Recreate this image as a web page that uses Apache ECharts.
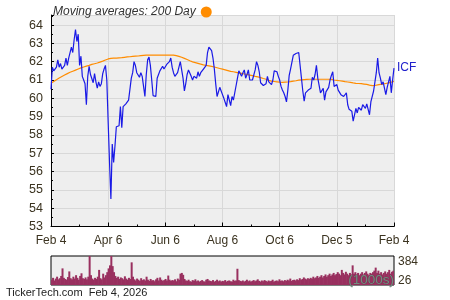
<!DOCTYPE html>
<html><head><meta charset="utf-8">
<script src="https://cdn.jsdelivr.net/npm/echarts@6/dist/echarts.min.js"></script>
<style>html,body{margin:0;padding:0;background:#fff}#c{width:450px;height:300px}</style>
</head><body><div id="c"></div>
<script>
// tick labels on the time axis (one label every 42 trading days)
const xTickLabels = ['Feb 4','Apr 6','Jun 6','Aug 6','Oct 6','Dec 5','Feb 4'];
const xTickStep = 42;
const yTickLabels = [53,54,55,56,57,58,59,60,61,62,63,64];

// daily closing price of ICF (253 trading days)
const price = [
60.5,61.7,61.5,61.6,61.7,62.1,61.7,61.9,61.6,61.7,
61.8,62.2,61.8,62.2,62.5,62.8,62.5,63.2,63.75,63.1,
63.5,61.8,62.3,61.2,61.0,60.8,59.65,61.2,61.75,61.3,
61.35,60.85,61.35,60.9,60.55,60.9,60.65,60.8,61.35,61.6,
61.8,61.0,58.7,56.5,54.5,57.5,56.5,57.4,58.45,58.55,
58.5,59.55,58.4,59.55,59.6,59.7,59.8,59.9,60.5,61.1,
61.4,62.0,61.8,61.4,61.5,61.15,61.4,61.2,60.65,60.1,
61.3,62.1,62.25,61.8,61.0,60.15,60.1,60.1,61.1,61.3,
61.5,61.45,61.75,61.6,61.7,61.85,61.9,62.0,62.2,61.7,
61.4,61.2,61.2,61.4,61.7,62.0,61.9,61.1,60.4,60.8,
61.3,61.55,61.6,61.2,61.0,61.2,61.1,61.1,61.45,61.2,
61.4,61.5,61.6,61.6,61.8,62.5,62.8,62.75,62.6,62.2,
61.6,60.8,60.1,60.15,60.6,60.5,60.2,60.0,59.9,59.55,
60.2,59.9,59.6,60.1,59.9,59.8,60.7,61.1,61.5,61.55,
61.2,61.4,61.55,61.1,61.3,61.55,61.0,61.1,61.0,61.1,
61.55,62.0,61.8,61.45,60.85,60.8,60.7,60.65,60.8,61.2,
60.9,60.8,60.75,61.0,61.5,61.4,61.45,61.2,61.0,60.65,
60.45,60.3,60.1,59.8,60.45,61.25,61.6,61.7,62.35,62.25,
62.45,62.35,62.5,62.6,61.1,60.4,59.85,60.3,60.4,60.45,
60.4,60.55,61.15,61.0,61.3,61.8,61.1,61.0,60.3,60.4,
60.55,59.9,60.35,60.3,60.6,61.0,61.25,61.45,60.65,60.7,
60.75,60.45,60.55,60.2,60.3,60.1,60.0,60.3,59.65,59.4,
59.35,59.3,58.75,59.1,59.45,59.2,59.5,59.45,59.35,59.65,
59.75,59.45,59.7,59.75,59.1,59.8,59.9,60.4,60.9,61.4,
62.2,61.4,61.1,60.75,60.9,60.8,60.2,60.6,60.9,61.2,
60.3,61.0,61.65
];

// 200-day moving average
const ma200 = [
60.82,60.87,60.92,60.97,61.02,61.07,61.11,61.15,61.19,61.23,
61.27,61.31,61.35,61.39,61.42,61.45,61.48,61.51,61.54,61.57,
61.6,61.63,61.66,61.68,61.71,61.73,61.76,61.78,61.8,61.82,
61.85,61.87,61.89,61.91,61.93,61.95,61.98,62.0,62.03,62.06,
62.09,62.12,62.15,62.17,62.18,62.18,62.19,62.2,62.2,62.21,
62.21,62.22,62.22,62.23,62.24,62.25,62.26,62.27,62.27,62.28,
62.29,62.29,62.3,62.3,62.31,62.32,62.33,62.34,62.35,62.35,
62.36,62.36,62.36,62.36,62.36,62.36,62.36,62.36,62.36,62.36,
62.36,62.36,62.36,62.36,62.36,62.36,62.36,62.36,62.36,62.36,
62.36,62.34,62.33,62.31,62.29,62.27,62.24,62.21,62.18,62.15,
62.12,62.08,62.05,62.01,61.99,61.97,61.95,61.93,61.91,61.89,
61.87,61.85,61.83,61.81,61.8,61.78,61.77,61.75,61.74,61.72,
61.71,61.69,61.67,61.65,61.63,61.61,61.59,61.57,61.55,61.53,
61.51,61.49,61.47,61.46,61.45,61.43,61.42,61.4,61.39,61.37,
61.36,61.34,61.33,61.32,61.3,61.29,61.27,61.25,61.24,61.22,
61.2,61.19,61.17,61.15,61.13,61.11,61.08,61.06,61.04,61.01,
60.98,60.96,60.94,60.93,60.92,60.91,60.9,60.89,60.88,60.87,
60.87,60.87,60.88,60.88,60.89,60.9,60.91,60.92,60.94,60.95,
60.96,60.98,60.99,61.0,61.01,61.02,61.02,61.03,61.03,61.04,
61.04,61.04,61.04,61.04,61.04,61.04,61.04,61.04,61.04,61.04,
61.04,61.04,61.04,61.04,61.04,61.04,61.03,61.02,61.0,60.99,
60.98,60.97,60.96,60.95,60.94,60.93,60.91,60.9,60.89,60.88,
60.87,60.85,60.84,60.82,60.82,60.81,60.81,60.8,60.8,60.79,
60.78,60.77,60.76,60.74,60.72,60.7,60.69,60.69,60.7,60.71,
60.73,60.74,60.76,60.77,60.78,60.79,60.81,60.82,60.84,60.86,
60.88,60.9,60.92
];

// daily volume (1000s)
const volume = [
70,95,60,85,110,75,90,120,220,95,
80,70,105,180,90,75,110,85,130,95,
70,120,155,90,80,100,75,110,384,130,
85,70,95,80,110,200,90,75,150,100,
130,170,220,260,384,250,170,120,95,110,
80,100,90,75,115,85,70,95,80,300,
110,75,60,85,70,55,90,65,75,60,
110,70,55,80,60,65,50,75,95,60,
100,70,55,65,80,60,125,70,55,65,
60,75,50,85,70,150,160,135,80,60,
55,70,50,45,65,55,75,50,60,45,
55,65,50,45,70,80,60,55,50,65,
45,55,70,50,60,45,55,50,65,45,
55,60,50,45,70,55,60,215,65,55,
50,60,45,55,70,50,60,45,55,65,
50,60,75,55,45,60,50,65,55,45,
60,50,55,70,45,55,60,50,75,55,
60,50,65,55,70,60,85,55,65,70,
60,75,65,90,70,80,100,85,75,90,
80,95,85,110,90,100,120,95,110,130,
100,120,140,110,130,150,120,140,160,130,
145,170,150,130,200,160,140,175,150,130,
160,140,260,150,170,140,160,130,150,170,
140,160,180,150,130,160,150,170,190,230,
160,190,150,170,140,160,180,150,170,200,
150,175,190
];
const volTickLabels = ['384','26'];
const tickerName = 'ICF';
const maName = 'Moving averages: 200 Day';

const chart = echarts.init(document.getElementById('c'), null, {renderer:'canvas'});
const idx = price.map((_, i) => i);
const txt = '#3b3320';
const fam = '"Liberation Sans", Arial, sans-serif';

chart.setOption({
  animation: false,
  backgroundColor: '#ffffff',
  textStyle: {fontFamily: fam},
  legend: {
    show: true, left: 48, top: 1, align: 'right', icon: 'circle',
    itemWidth: 11, itemHeight: 11, selectedMode: false,
    data: [maName],
    textStyle: {fontStyle: 'italic', fontSize: 12, color: '#333', fontFamily: fam}
  },
  grid: [
    {left: 51, right: 56, top: 15, height: 211.5, show: true, backgroundColor: '#eeeeee', borderWidth: 0},
    {left: 51, right: 56, top: 256, height: 29, show: true, backgroundColor: '#eeeeee', borderColor: '#000', borderWidth: 1}
  ],
  xAxis: [
    {type: 'value', gridIndex: 0, min: 0, max: (xTickLabels.length - 1) * xTickStep, interval: xTickStep,
     axisLine: {show: true, lineStyle: {color: '#000', width: 1}},
     axisTick: {show: true, inside: true, length: 4, lineStyle: {color: '#000'}},
     minorTick: {show: true, splitNumber: 2, length: 2, lineStyle: {color: '#000'}},
     splitLine: {show: true, lineStyle: {color: '#d8d8d8', width: 1}},
     axisLabel: {margin: 8, fontSize: 12, color: txt, fontFamily: fam,
       formatter: v => xTickLabels[Math.round(v / xTickStep)] || ''}},
    {type: 'category', gridIndex: 1, data: idx, boundaryGap: true,
     axisLine: {show: false}, axisTick: {show: false}, axisLabel: {show: false}, splitLine: {show: false}}
  ],
  yAxis: [
    {type: 'value', gridIndex: 0, min: yTickLabels[0], max: 64.55, interval: 1,
     axisLine: {show: true, lineStyle: {color: '#000', width: 1}},
     axisTick: {show: true, inside: true, length: 3, lineStyle: {color: '#000'}},
     minorTick: {show: true, splitNumber: 2, length: 2, lineStyle: {color: '#000'}},
     splitLine: {show: true, lineStyle: {color: '#d8d8d8', width: 1}},
     axisLabel: {margin: 8, fontSize: 12.5, color: txt, fontFamily: fam, showMaxLabel: false,
       formatter: v => (yTickLabels.indexOf(v) >= 0 ? String(v) : '')}},
    {type: 'value', gridIndex: 1, min: 0, max: 384,
     axisLine: {show: false}, axisTick: {show: false}, axisLabel: {show: false}, splitLine: {show: false}}
  ],
  series: [
    {name: tickerName, type: 'line', xAxisIndex: 0, yAxisIndex: 0,
     data: price.map((v, i) => [i, v]), showSymbol: false, symbol: 'none', z: 4,
     lineStyle: {color: '#1a1ae6', width: 1.2}, itemStyle: {color: '#1a1ae6'},
     endLabel: {show: true, formatter: tickerName, color: '#2020cc', fontSize: 12, distance: 3, fontFamily: fam}},
    {name: maName, type: 'line', xAxisIndex: 0, yAxisIndex: 0,
     data: ma200.map((v, i) => [i, v]), showSymbol: false, symbol: 'none', z: 3,
     lineStyle: {color: '#ff8c00', width: 1.2}, itemStyle: {color: '#ff8c00'}},
    {name: 'Volume', type: 'bar', xAxisIndex: 1, yAxisIndex: 1, data: volume,
     barWidth: 2, itemStyle: {color: '#99305f'}, z: 2}
  ],
  graphic: [
    {type: 'text', left: 398, top: 256, style: {text: volTickLabels[0], fontSize: 12, fill: txt, fontFamily: fam}},
    {type: 'text', left: 398, top: 274.5, style: {text: volTickLabels[1], fontSize: 12, fill: txt, fontFamily: fam}},
    {type: 'text', left: 348, top: 273, z: 100, style: {text: '(1000s)', fontSize: 13.5, fill: '#748c80', stroke: 'rgba(60,70,65,0.6)', lineWidth: 0.6, fontFamily: fam}},
    {type: 'text', left: 6, top: 287, style: {text: 'TickerTech.com  Feb 4, 2026', fontSize: 11, fill: '#222', fontFamily: fam}}
  ]
});
</script>
</body></html>
